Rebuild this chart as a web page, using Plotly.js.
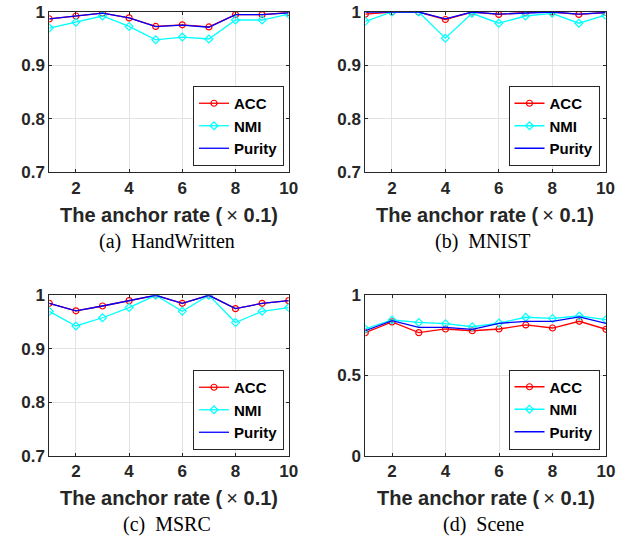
<!DOCTYPE html>
<html>
<head>
<meta charset="utf-8">
<script src="https://cdn.plot.ly/plotly-3.0.1.min.js"></script>
<style>html,body{margin:0;padding:0;background:#fff;}#chart{width:624px;height:548px;}</style>
</head>
<body>
<div id="chart"></div>
<script>
const anchorRate = [1, 2, 3, 4, 5, 6, 7, 8, 9, 10];
const xTickVals = [2, 4, 6, 8, 10];
const seriesNames = ['ACC', 'NMI', 'Purity'];
const panelTitles = ['(a)\u00a0\u00a0HandWritten', '(b)\u00a0\u00a0MNIST', '(c)\u00a0\u00a0MSRC', '(d)\u00a0\u00a0Scene'];
const xAxisLabel = 'The anchor rate (\u2009<span style="font-weight:normal">\u00d7</span>\u00a00.1)';

const handACC = [0.987, 0.9925, 0.998, 0.989, 0.973, 0.976, 0.972, 0.995, 0.995, 0.999];
const handNMI = [0.970, 0.981, 0.9925, 0.973, 0.948, 0.953, 0.9495, 0.985, 0.985, 0.996];
const handPurity = [0.987, 0.992, 0.998, 0.989, 0.9725, 0.9755, 0.9715, 0.995, 0.995, 0.9985];

const mnistACC = [0.996, 1.0, 1.0, 0.986, 1.0, 0.9955, 0.999, 1.0, 0.9955, 0.999];
const mnistNMI = [0.9825, 1.0, 1.0, 0.951, 0.9975, 0.979, 0.9925, 0.9975, 0.979, 0.994];
const mnistPurity = [1.0, 1.0, 1.0, 0.987, 1.0, 0.996, 0.998, 1.0, 0.996, 0.999];

const msrcACC = [0.985, 0.971, 0.980, 0.990, 1.0, 0.985, 1.0, 0.975, 0.985, 0.990];
const msrcNMI = [0.970, 0.9426, 0.958, 0.977, 1.0, 0.970, 1.0, 0.949, 0.970, 0.977];
const msrcPurity = [0.985, 0.971, 0.980, 0.990, 1.0, 0.985, 1.0, 0.975, 0.985, 0.990];

const sceneACC = [0.767, 0.834, 0.767, 0.790, 0.779, 0.790, 0.815, 0.796, 0.838, 0.788];
const sceneNMI = [0.790, 0.846, 0.831, 0.823, 0.804, 0.827, 0.863, 0.856, 0.871, 0.848];
const scenePurity = [0.779, 0.842, 0.800, 0.800, 0.788, 0.825, 0.838, 0.838, 0.865, 0.825];

const panels = [
  {acc: handACC, nmi: handNMI, pur: handPurity, yr: [0.7, 1], dt: 0.1},
  {acc: mnistACC, nmi: mnistNMI, pur: mnistPurity, yr: [0.7, 1], dt: 0.1},
  {acc: msrcACC, nmi: msrcNMI, pur: msrcPurity, yr: [0.7, 1], dt: 0.1},
  {acc: sceneACC, nmi: sceneNMI, pur: scenePurity, yr: [0, 1], dt: 0.5}
];

const W = 624, H = 548;
// pixel boxes [left, right, top, bottom]
const boxes = [
  [49.3, 288.7, 12, 172.3],
  [365.3, 605.5, 12, 172.3],
  [49.3, 288.7, 295.3, 455.7],
  [365.3, 606, 295.3, 455.7]
];
const legendPos = [
  [284, 166], [599.5, 166], [284, 450], [599.5, 449.5]
];
const xTitleY = [215, 215, 498, 498];
const subTitleY = [241, 241, 524, 524];

const axisColor = '#262626';
const tickFont = {family: 'Liberation Sans, Arial, sans-serif', size: 17, color: axisColor, weight: 'bold'};
const colors = {ACC: '#ff0000', NMI: '#00ffff', Purity: '#0000ff'};

const traces = [];
const layout = {
  width: W, height: H,
  margin: {l: 0, r: 0, t: 0, b: 0},
  paper_bgcolor: '#fff', plot_bgcolor: '#fff',
  showlegend: true,
  annotations: []
};

panels.forEach((p, i) => {
  const n = i + 1;
  const xa = n === 1 ? 'x' : 'x' + n;
  const ya = n === 1 ? 'y' : 'y' + n;
  const lg = n === 1 ? 'legend' : 'legend' + n;
  const b = boxes[i];
  traces.push({
    x: anchorRate, y: p.acc, name: seriesNames[0], xaxis: xa, yaxis: ya, legend: lg,
    type: 'scatter', mode: 'lines+markers',
    line: {color: colors.ACC, width: 1.3},
    marker: {symbol: 'circle-open', size: 6, color: colors.ACC, line: {width: 1.2, color: colors.ACC}}
  });
  traces.push({
    x: anchorRate, y: p.nmi, name: seriesNames[1], xaxis: xa, yaxis: ya, legend: lg,
    type: 'scatter', mode: 'lines+markers',
    line: {color: colors.NMI, width: 1.3},
    marker: {symbol: 'diamond-open', size: 6, color: colors.NMI, line: {width: 1.2, color: colors.NMI}}
  });
  traces.push({
    x: anchorRate, y: p.pur, name: seriesNames[2], xaxis: xa, yaxis: ya, legend: lg,
    type: 'scatter', mode: 'lines',
    line: {color: colors.Purity, width: 1.3}
  });
  const xKey = n === 1 ? 'xaxis' : 'xaxis' + n;
  const yKey = n === 1 ? 'yaxis' : 'yaxis' + n;
  layout[xKey] = {
    domain: [b[0] / W, b[1] / W], anchor: ya,
    range: [1, 10], tickvals: xTickVals, ticktext: xTickVals.map(String),
    showgrid: true, gridcolor: '#e3e3e3', gridwidth: 1, zeroline: false,
    showline: true, linecolor: axisColor, linewidth: 1, mirror: 'ticks',
    ticks: 'inside', ticklen: 3, tickcolor: axisColor, tickfont: tickFont,
    automargin: false, fixedrange: true
  };
  layout[yKey] = {
    domain: [1 - b[3] / H, 1 - b[2] / H], anchor: xa,
    range: p.yr, dtick: p.dt, tick0: 0,
    showgrid: true, gridcolor: '#e3e3e3', gridwidth: 1, zeroline: false,
    showline: true, linecolor: axisColor, linewidth: 1, mirror: 'ticks',
    ticks: 'inside', ticklen: 3, tickcolor: axisColor, tickfont: tickFont,
    automargin: false, fixedrange: true
  };
  layout[lg] = {
    x: legendPos[i][0] / W, y: 1 - legendPos[i][1] / H,
    xanchor: 'right', yanchor: 'bottom', xref: 'paper', yref: 'paper',
    bgcolor: '#fff', bordercolor: axisColor, borderwidth: 1,
    font: {family: 'Liberation Sans, Arial, sans-serif', size: 15, color: '#000', weight: 'bold'},
    itemwidth: 30, tracegroupgap: 0
  };
  const cx = (b[0] + b[1]) / 2 / W;
  layout.annotations.push({
    text: xAxisLabel, xref: 'paper', yref: 'paper', x: cx, y: 1 - xTitleY[i] / H,
    xanchor: 'center', yanchor: 'middle', showarrow: false,
    font: {family: 'Liberation Sans, Arial, sans-serif', size: 20, color: axisColor, weight: 'bold'}
  });
  layout.annotations.push({
    text: panelTitles[i], xref: 'paper', yref: 'paper', x: cx - 2 / W, y: 1 - subTitleY[i] / H,
    xanchor: 'center', yanchor: 'middle', showarrow: false,
    font: {family: 'Liberation Serif, Times New Roman, serif', size: 20, color: '#000'}
  });
});

Plotly.newPlot('chart', traces, layout, {staticPlot: true, displayModeBar: false});
</script>
</body>
</html>
